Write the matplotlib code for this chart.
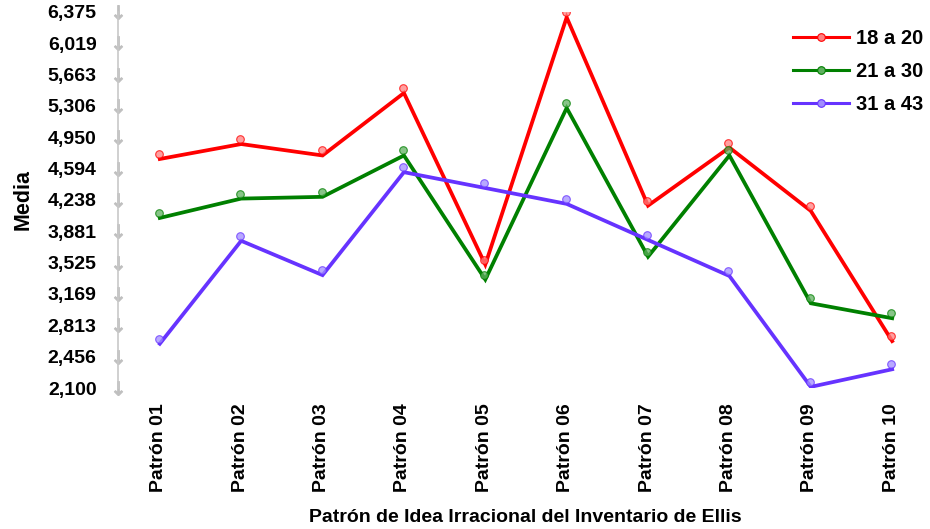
import matplotlib
matplotlib.use("Agg")
import matplotlib.pyplot as plt
import matplotlib.transforms as mtransforms
import numpy as np

# ── Data ─────────────────────────────────────────────────────────────────────
patrones = ["Patrón 01", "Patrón 02", "Patrón 03", "Patrón 04", "Patrón 05",
            "Patrón 06", "Patrón 07", "Patrón 08", "Patrón 09", "Patrón 10"]

edad_18_20 = [4.76, 4.93, 4.80, 5.51, 3.56, 6.37, 4.23, 4.89, 4.17, 2.69]
edad_21_30 = [4.09, 4.31, 4.33, 4.80, 3.39, 5.34, 3.65, 4.80, 3.12, 2.95]
edad_31_43 = [2.66, 3.83, 3.44, 4.61, 4.43, 4.25, 3.84, 3.43, 2.17, 2.37]

series_labels = ["18 a 20", "21 a 30", "31 a 43"]
yticks = [2.100, 2.45625, 2.8125, 3.16875, 3.525, 3.88125, 4.2375,
          4.59375, 4.950, 5.30625, 5.6625, 6.01875, 6.375]
ytick_labels = ["2,100", "2,456", "2,813", "3,169", "3,525", "3,881", "4,238",
                "4,594", "4,950", "5,306", "5,663", "6,019", "6,375"]

colors = ["#ff0000", "#008000", "#6633ff"]
marker_faces = ["#ff8080", "#60b060", "#a08cff"]

plt.rcParams["font.family"] = ["Liberation Sans", "DejaVu Sans"]

fig = plt.figure(figsize=(9.3, 5.29), dpi=100)
ax = fig.add_axes([0.127, 0.2665, 0.875, 0.711])

x = np.arange(len(patrones))
# lines are drawn with a small drop offset below the markers (shadow look)
line_tr = mtransforms.offset_copy(ax.transData, fig=fig, x=1, y=-5, units="dots")

handles = []
for vals, col, mfc, lab in zip([edad_18_20, edad_21_30, edad_31_43],
                               colors, marker_faces, series_labels):
    ax.plot(x, vals, color=col, linewidth=2.7, transform=line_tr,
            solid_joinstyle="miter", zorder=3)
    ax.plot(x, vals, linestyle="none", marker="o", markersize=5.5,
            markerfacecolor=mfc, markeredgecolor=col, markeredgewidth=0.8,
            alpha=0.75, zorder=4)
    h, = ax.plot([], [], color=col, linewidth=2.2, marker="o", markersize=5.5,
                 markerfacecolor=mfc, markeredgecolor=col, markeredgewidth=0.8)
    handles.append(h)

ax.set_xlim(-0.5, len(patrones) - 0.5)
ax.set_ylim(2.100, 6.375)
ax.set_xticks(x)
ax.set_xticklabels(patrones, rotation=90, fontsize=14, fontweight="bold")
ax.set_yticks(yticks)
ax.set_yticklabels(ytick_labels, fontsize=14, fontweight="bold")
ax.tick_params(axis="x", length=0, pad=11)
ax.tick_params(axis="y", pad=12)

for t in ax.yaxis.get_major_ticks():
    t.tick1line.set_marker(r"$\downarrow$")
    t.tick1line.set_markersize(10)
    t.tick1line.set_color("#bfbfbf")
    t.tick1line.set_markeredgecolor("#bfbfbf")
    t.tick1line.set_markerfacecolor("#bfbfbf")

for side in ["top", "right", "bottom"]:
    ax.spines[side].set_visible(False)
ax.spines["left"].set_color("#c8c8c8")
ax.spines["left"].set_linewidth(1.2)
ax.patch.set_alpha(0)

ax.set_ylabel("Media", fontsize=15.5, fontweight="bold", labelpad=10)
ax.set_xlabel("Patrón de Idea Irracional del Inventario de Ellis",
              fontsize=14, fontweight="bold", labelpad=12)

ax.legend(handles, series_labels, loc="upper right", bbox_to_anchor=(1.012, 1.003),
          frameon=False, prop={"size": 14.5, "weight": "bold"},
          handlelength=2.8, labelspacing=0.7, handletextpad=0.35)

fig.savefig("out.png", dpi=100)
